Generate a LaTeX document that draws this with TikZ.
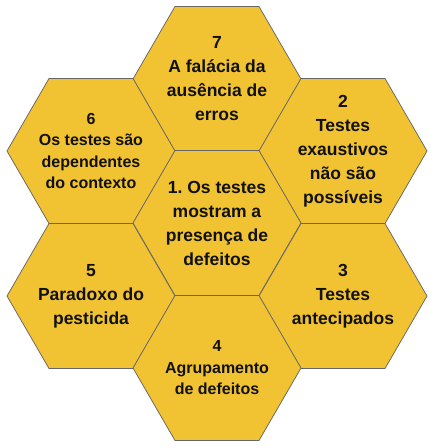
\documentclass[tikz,border=0pt]{standalone}
\usepackage{fontspec}
\setmainfont{Liberation Sans}
\frenchspacing
\definecolor{hexfill}{HTML}{F1C232}
\definecolor{hexline}{HTML}{666666}
\definecolor{hextext}{HTML}{111111}
\tikzset{
  hexbody/.style={fill=hexfill,draw=hexline,line width=0.75pt,line join=miter},
  bigtxt/.style={align=center,text=hextext,inner sep=0pt,font=\fontsize{17.5}{24}\selectfont\bfseries},
  smalltxt/.style={align=center,text=hextext,inner sep=0pt,font=\fontsize{16}{21.5}\selectfont\bfseries}
}
\newcommand\myhex[2]{%
  \draw[hexbody,shift={(#1,#2)}] (-84,0) -- (-42,-72.5) -- (42,-72.5) -- (84,0) -- (42,72.5) -- (-42,72.5) -- cycle;}
\begin{document}
\begin{tikzpicture}[x=1pt,y=-1pt]
\useasboundingbox (0,0) rectangle (435,448);
\myhex{217}{79}
\myhex{91}{151}
\myhex{343}{151}
\myhex{217}{223}
\myhex{91}{296}
\myhex{343}{296}
\myhex{217}{368}
\node[bigtxt] (h7) at (217,79) {7\\A falácia da\\ausência de\\erros};
\node[smalltxt] (h6) at (91,151) {6\\Os testes são\\dependentes\\do contexto};
\node[bigtxt] (h2) at (343,151) {2\\Testes\\exaustivos\\não são\\possíveis};
\node[bigtxt] (h1) at (217,223) {1. Os testes\\mostram a\\presença de\\defeitos};
\node[bigtxt] (h5) at (91,296) {5\\Paradoxo do\\pesticida};
\node[bigtxt] (h3) at (343,296) {3\\Testes\\antecipados};
\node[smalltxt] (h4) at (217,368) {4\\Agrupamento\\de defeitos};
\end{tikzpicture}
\end{document}
